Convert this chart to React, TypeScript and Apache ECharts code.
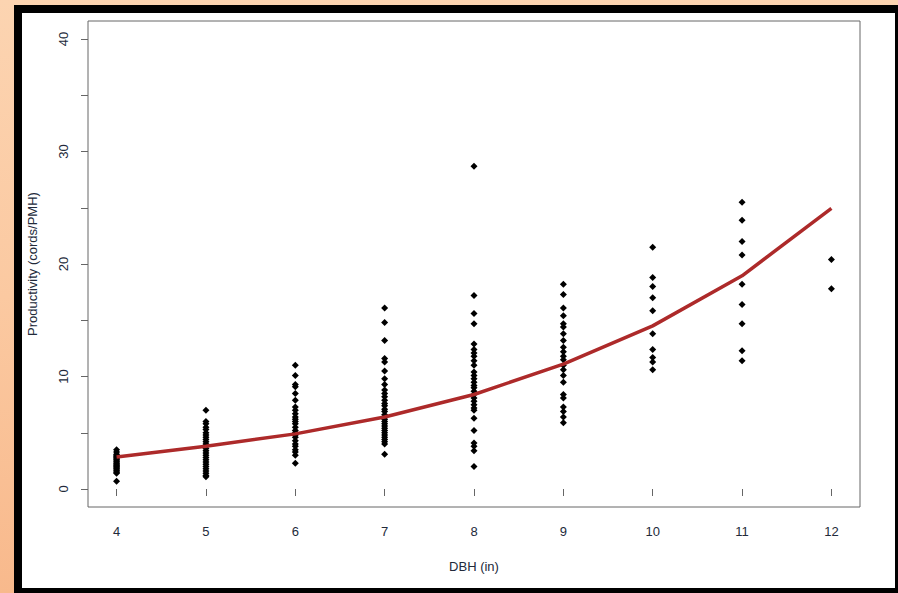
import React, { useEffect, useRef } from "react";
import * as echarts from "echarts";

const dbhClasses = [4, 5, 6, 7, 8, 9, 10, 11, 12];
const fittedValues = [2.84, 3.8, 4.9, 6.4, 8.4, 11.1, 14.5, 18.95, 24.95];

const obs4 = [0.7, 1.4, 1.5, 1.6, 1.7, 1.8, 1.9, 2.0, 2.1, 2.2, 2.3, 2.4, 2.5, 2.6, 2.7, 2.8, 2.9, 3.0, 3.1, 3.3, 3.5];
const obs5 = [7.0, 6.0, 5.8, 5.5, 5.3, 5.0, 4.8, 4.6, 4.4, 4.2, 4.0, 3.8, 3.6, 3.4, 3.2, 3.0, 2.8, 2.6, 2.4, 2.2, 2.0, 1.8, 1.6, 1.4, 1.2, 1.1];
const obs6 = [11.0, 10.1, 9.3, 9.1, 8.5, 7.9, 7.3, 7.0, 6.7, 6.4, 6.2, 6.0, 5.8, 5.5, 5.2, 5.0, 4.8, 4.6, 4.3, 4.0, 3.8, 3.5, 3.3, 3.0, 2.3];
const obs7 = [16.1, 14.8, 13.2, 11.6, 11.3, 10.5, 9.8, 9.3, 8.8, 8.5, 8.2, 7.9, 7.6, 7.4, 7.1, 6.9, 6.6, 6.4, 6.2, 6.0, 5.8, 5.6, 5.4, 5.2, 5.0, 4.8, 4.6, 4.4, 4.2, 4.0, 3.1];
const obs8 = [28.7, 17.2, 15.6, 14.7, 12.9, 12.4, 12.1, 11.8, 11.4, 11.0, 10.4, 10.1, 9.8, 9.5, 9.2, 9.0, 8.7, 8.4, 8.1, 7.8, 7.5, 7.2, 7.0, 6.3, 5.2, 4.1, 3.8, 3.4, 2.0];
const obs9 = [18.2, 17.3, 16.1, 15.4, 14.7, 14.4, 13.8, 13.2, 12.6, 12.2, 11.8, 11.5, 11.0, 10.6, 10.1, 9.5, 8.4, 8.1, 7.3, 6.9, 6.4, 5.9];
const obs10 = [21.5, 18.8, 18.0, 17.0, 15.85, 13.8, 12.4, 11.7, 11.3, 10.6];
const obs11 = [25.5, 23.9, 22.0, 20.8, 18.2, 16.4, 14.7, 12.3, 11.4];
const obs12 = [20.4, 17.8];

const observations = [obs4, obs5, obs6, obs7, obs8, obs9, obs10, obs11, obs12];

const xTicks = [4, 5, 6, 7, 8, 9, 10, 11, 12];
const yTicks = [0, 5, 10, 15, 20, 25, 30, 35, 40];
const yLabels = [0, 10, 20, 30, 40];

const FONT = "'Liberation Sans', Arial, sans-serif";
const TXT = "#222a3a";

export default function App() {
  const ref = useRef<HTMLDivElement>(null);

  useEffect(() => {
    if (!ref.current) return;
    const chart = echarts.init(ref.current, undefined, { renderer: "svg" });

    const scatterData: number[][] = [];
    observations.forEach((vals, i) => {
      vals.forEach((v) => scatterData.push([dbhClasses[i], v]));
    });
    const lineData = dbhClasses.map((d, i) => [d, fittedValues[i]]);

    chart.setOption({
      animation: false,
      backgroundColor: "transparent",
      textStyle: { fontFamily: FONT },
      grid: {
        left: 88,
        top: 21,
        right: 38,
        bottom: 86,
        show: true,
        borderColor: "#666",
        borderWidth: 1,
        backgroundColor: "transparent",
      },
      xAxis: {
        type: "value",
        min: 3.68,
        max: 12.32,
        name: "DBH (in)",
        nameLocation: "middle",
        nameGap: 53,
        nameTextStyle: { fontSize: 13, color: TXT, fontFamily: FONT },
        axisLine: { show: false },
        splitLine: { show: false },
        axisTick: {
          show: true,
          inside: false,
          length: 7,
          customValues: xTicks,
          lineStyle: { color: "#666", width: 1 },
        },
        axisLabel: {
          customValues: xTicks,
          fontSize: 13,
          color: TXT,
          fontFamily: FONT,
          margin: 18,
        },
      },
      yAxis: {
        type: "value",
        min: -1.6,
        max: 41.6,
        name: "Productivity (cords/PMH)",
        nameLocation: "middle",
        nameGap: 49,
        nameRotate: 90,
        nameTextStyle: { fontSize: 13, color: TXT, fontFamily: FONT },
        axisLine: { show: false },
        splitLine: { show: false },
        axisTick: {
          show: true,
          inside: false,
          length: 7,
          customValues: yTicks,
          lineStyle: { color: "#666", width: 1 },
        },
        axisLabel: {
          customValues: yLabels,
          rotate: 90,
          fontSize: 13,
          color: TXT,
          fontFamily: FONT,
          margin: 18,
        },
      },
      series: [
        {
          type: "scatter",
          data: scatterData,
          symbol: "diamond",
          symbolSize: 7,
          itemStyle: { color: "#000", opacity: 1 },
          z: 2,
        },
        {
          type: "line",
          data: lineData,
          showSymbol: false,
          symbol: "none",
          lineStyle: { color: "#AD2A2A", width: 3.5 },
          z: 3,
        },
      ],
    });

    return () => chart.dispose();
  }, []);

  return (
    <div
      style={{
        position: "fixed",
        left: 0,
        top: 0,
        width: 898,
        height: 593,
        background: "linear-gradient(180deg, #FCD4B1 0%, #FBC9A1 50%, #F8B98C 100%)",
        overflow: "hidden",
      }}
    >
      <div
        style={{
          position: "absolute",
          left: 14,
          top: 5,
          width: 884,
          height: 588,
          background: "#000",
        }}
      />
      <div
        style={{
          position: "absolute",
          left: 22,
          top: 13,
          width: 873,
          height: 575,
          background: "#fff",
        }}
      />
      <div
        ref={ref}
        style={{ position: "absolute", left: 0, top: 0, width: 898, height: 593 }}
      />
    </div>
  );
}
